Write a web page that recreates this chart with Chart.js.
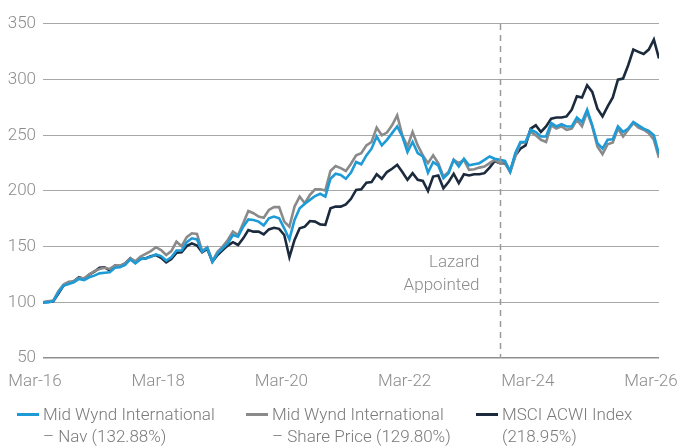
<!DOCTYPE html>
<html>
<head>
<meta charset="utf-8">
<script src="https://cdn.jsdelivr.net/npm/chart.js@4.4.1/dist/chart.umd.min.js"></script>
<style>
  html, body { margin: 0; padding: 0; background: #fff; }
  #wrap { position: relative; width: 678px; height: 446px; }
  #legend { position: absolute; left: 0; top: 403px; width: 678px; font: 300 17px Roboto, sans-serif; color: #7a7a7a; }
  .item { position: absolute; top: 0; line-height: 22px; white-space: nowrap; }
  .item i { position: absolute; top: 10px; width: 22px; height: 3px; }
</style>
</head>
<body>
<div id="wrap">
  <canvas id="lineChart" width="678" height="446"></canvas>
  <div id="legend"></div>
</div>
<script>
// monthly values, Mar-16 .. Mar-26, rebased to 100
const nav = [
  100, 100, 101, 109, 115, 116.5, 118, 121, 120, 122.5, 124, 126, 126.5, 127, 131, 131.5, 133.5, 138.5, 135, 139,
  139.5, 141, 143, 141.5, 137.5, 140.5, 146.5, 146.5, 154, 157.5, 156.5, 145.5, 149, 136.5, 144, 148.5, 153, 160.5, 159, 168,
  174.5, 174, 172.5, 169, 175.5, 177, 175.5, 166.5, 156.5, 174, 184.5, 188.5, 192, 195.5, 197.5, 195, 211, 215.5, 214.5, 211,
  216.5, 226, 224, 232, 238, 249, 241, 246, 252, 258, 249, 235, 244, 234, 231, 216.5, 226, 223, 211.5, 216,
  228, 222, 229, 223, 224, 225, 228, 231, 229, 228, 227, 217.5, 234, 244, 244, 255, 253, 249, 249, 261,
  258, 260, 258, 258, 266, 262, 273, 259, 243, 238, 246, 246.5, 258, 253, 256, 262, 259, 256, 254, 250,
  232.9
];
const sharePrice = [
  100, 101, 101.5, 110, 116, 118.5, 119, 122, 121.5, 125, 128, 130, 131, 130, 133, 133, 135, 139.5, 137, 141,
  143.5, 146, 149.5, 147, 142.5, 146, 154.5, 150.5, 158.5, 162, 161.5, 146, 149.5, 137, 145.5, 150, 156, 163.5, 160.5, 171,
  182, 180, 177, 176, 183, 185.5, 185.5, 172.5, 168, 186, 195, 189, 196.5, 201.5, 201.5, 200.5, 218, 222.5, 220.5, 218,
  224.5, 232, 234, 241, 244, 257, 250, 252.5, 259, 268, 250, 240, 253, 241, 232, 225, 232, 225, 213, 217,
  228, 225, 228, 219, 219.5, 221, 222, 225, 228, 225, 226, 217, 231, 243, 244, 253, 250, 246, 244, 259,
  256, 258, 255, 256, 264, 258, 271, 258, 240, 233, 242, 243.5, 256, 249, 255, 261, 257, 255, 252, 246,
  229.8
];
const msciAcwi = [
  100, 100.5, 101, 108, 115, 117, 119, 122.5, 121, 125, 127.5, 131, 131.5, 128.5, 133, 132.5, 135, 139.5, 135.5, 139,
  139.5, 141.5, 142.5, 140, 136, 139, 144.5, 145, 150.5, 153, 151, 145, 148, 136.5, 142.5, 147, 151, 154, 151.5, 157.5,
  165, 163.5, 163.5, 161, 165.5, 167, 166, 160.5, 140.5, 156, 166.5, 168, 173, 172.5, 170, 169.5, 184.5, 186, 186, 188,
  193, 201, 201.5, 207.5, 208, 215, 211, 217, 220, 223.5, 217, 210, 216, 210, 209, 200, 213, 214, 202.5, 208,
  215.5, 207, 215, 214, 215, 215, 216, 221, 227, 225, 225, 217.5, 232, 238, 241, 256, 259, 253, 258, 265,
  266, 266, 267, 273, 285, 284, 295, 289, 274, 267, 276, 284, 300, 301, 313, 327, 325, 323, 327, 336,
  319
];
const seriesNames = [
  ['Mid Wynd International', '\u2013 Nav (132.88%)'],
  ['Mid Wynd International', '\u2013 Share Price (129.80%)'],
  ['MSCI ACWI Index', '(218.95%)']
];
const colors = ['#1e9bd7', '#8a8a8a', '#1c2a3d'];
const tickLabels = ['Mar-16', 'Mar-18', 'Mar-20', 'Mar-22', 'Mar-24', 'Mar-26'];
const yTicks = [50, 100, 150, 200, 250, 300, 350];
const lazardIndex = 89;   // Aug-23
const lazardText = ['Lazard', 'Appointed'];

const textGrey = '#8c8c8c';
const tickFont = { family: 'Roboto', size: 17, weight: 300 };

const lazardLine = {
  id: 'lazardLine',
  afterDatasetsDraw(chart) {
    const { ctx, chartArea, scales } = chart;
    const x = Math.round(scales.x.getPixelForValue(lazardIndex)) + 0.5;
    ctx.save();
    ctx.strokeStyle = '#9a9a9a';
    ctx.lineWidth = 1.5;
    ctx.setLineDash([6, 5]);
    ctx.beginPath();
    ctx.moveTo(x, chartArea.top);
    ctx.lineTo(x, chartArea.bottom);
    ctx.stroke();
    ctx.setLineDash([]);
    ctx.fillStyle = textGrey;
    ctx.font = '300 17px Roboto, sans-serif';
    ctx.textAlign = 'right';
    ctx.textBaseline = 'middle';
    ctx.fillText(lazardText[0], x - 21, scales.y.getPixelForValue(135.3));
    ctx.fillText(lazardText[1], x - 21, scales.y.getPixelForValue(114.6));
    ctx.restore();
  }
};

const ctxLine = document.getElementById('lineChart').getContext('2d');

new Chart(ctxLine, {
  type: 'line',
  data: {
    labels: nav.map((_, i) => i),
    datasets: [nav, sharePrice, msciAcwi].map((d, i) => ({
      label: seriesNames[i].join(' '),
      data: d,
      borderColor: colors[i],
      borderWidth: 2.6,
      pointRadius: 0,
      tension: 0,
      fill: false
    }))
  },
  options: {
    responsive: false,
    animation: false,
    layout: { padding: { top: 24, right: 19, bottom: 52, left: 0 } },
    plugins: { legend: { display: false }, tooltip: { enabled: false } },
    scales: {
      x: {
        type: 'linear',
        min: 0,
        max: 120,
        afterBuildTicks: (s) => { s.ticks = tickLabels.map((_, i) => ({ value: i * 24 })); },
        afterFit: (s) => { s.height = 36; s.paddingLeft = 0; s.paddingRight = 0; },
        grid: { display: false, drawTicks: false },
        border: { display: false },
        ticks: {
          color: textGrey,
          font: tickFont,
          padding: 14,
          labelOffset: -8,
          maxRotation: 0,
          autoSkip: false,
          callback: (v) => tickLabels[v / 24]
        }
      },
      y: {
        min: 50,
        max: 350,
        afterBuildTicks: (s) => { s.ticks = yTicks.map(v => ({ value: v })); },
        afterFit: (s) => { s.width = 43; s.paddingTop = 0; s.paddingBottom = 0; },
        grid: {
          color: (c) => c.tick.value === 50 ? '#8f8f8f' : '#a8a8a8',
          lineWidth: (c) => c.tick.value === 50 ? 1.6 : 1.1,
          drawTicks: false
        },
        border: { display: false },
        ticks: {
          color: textGrey,
          font: tickFont,
          padding: 7
        }
      }
    }
  },
  plugins: [lazardLine]
});

// legend with two-line labels
const legendX = [17, 246, 476];
const legend = document.getElementById('legend');
seriesNames.forEach((lines, i) => {
  const item = document.createElement('div');
  item.className = 'item';
  item.style.left = legendX[i] + 'px';
  item.innerHTML = '<i style="background:' + colors[i] + '"></i>' +
    '<div style="margin-left:26px">' + lines.join('<br>') + '</div>';
  legend.appendChild(item);
});
</script>
</body>
</html>
